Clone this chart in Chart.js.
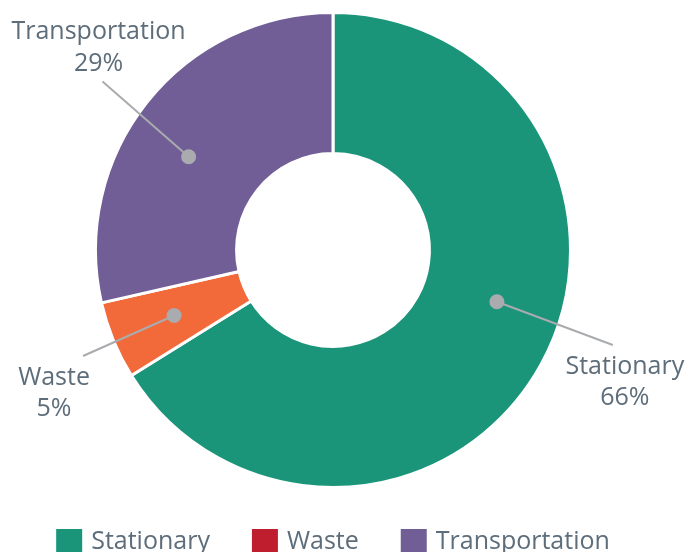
<!DOCTYPE html>
<html>
<head>
<meta charset="utf-8">
<script src="https://cdn.jsdelivr.net/npm/chart.js@4/dist/chart.umd.min.js"></script>
<style>
html,body{margin:0;padding:0;background:#fff;overflow:hidden;}
#wrap{width:688px;height:552px;position:relative;}
</style>
</head>
<body>
<div id="wrap"><canvas id="c" width="688" height="552"></canvas></div>
<script>
const categories = ['Stationary', 'Waste', 'Transportation'];
const shares = [66.2, 5.3, 28.6];
const sliceColors = ['#1b957a', '#f26a3a', '#715e96'];
const legendColors = ['#1b957a', '#be1e2d', '#715e96'];

const TEXT_COLOR = '#5d6d7a';
const FONT = '25px "Open Sans", "Noto Sans", sans-serif';

// callout placement (styling only): angle shifts in degrees, radial extension in px, text offsets
const calloutPlacement = [
  { shift: -11.5, endShift: 1.2, ext: 58, dx: 12, below: true },
  { shift: 0, endShift: -0.6, ext: 34, dx: -29, below: true },
  { shift: -5.7, endShift: 3.3, ext: 48, dx: -4, below: false }
];

const calloutPlugin = {
  id: 'callouts',
  afterDatasetsDraw(chart) {
    const ctx = chart.ctx;
    const meta = chart.getDatasetMeta(0);
    const data = chart.data.datasets[0].data;
    const total = data.reduce((a, b) => a + b, 0);
    ctx.save();
    meta.data.forEach((arc, i) => {
      const p = arc.getProps(['x', 'y', 'startAngle', 'endAngle', 'innerRadius', 'outerRadius'], true);
      const pl = calloutPlacement[i];
      const a = (p.startAngle + p.endAngle) / 2 + pl.shift * Math.PI / 180;
      const ae = a + pl.endShift * Math.PI / 180;
      const r0 = p.innerRadius + (p.outerRadius - p.innerRadius) * 0.535;
      const r1 = p.outerRadius + pl.ext;
      const dx0 = p.x + Math.cos(a) * r0, dy0 = p.y + Math.sin(a) * r0;
      const ex = p.x + Math.cos(ae) * r1, ey = p.y + Math.sin(ae) * r1;
      ctx.strokeStyle = '#a9abae';
      ctx.lineWidth = 2;
      ctx.beginPath();
      ctx.moveTo(dx0, dy0);
      ctx.lineTo(ex, ey);
      ctx.stroke();
      ctx.fillStyle = '#a9abae';
      ctx.beginPath();
      ctx.arc(dx0, dy0, 7.5, 0, Math.PI * 2);
      ctx.fill();
      const pct = Math.round(data[i] * 100 / total) + '%';
      ctx.fillStyle = TEXT_COLOR;
      ctx.font = FONT;
      ctx.textAlign = 'center';
      ctx.textBaseline = 'alphabetic';
      const tx = ex + pl.dx;
      let b1, b2;
      if (pl.below) { b1 = ey + 29; b2 = b1 + 31; }
      else { b2 = ey - 10; b1 = b2 - 32; }
      ctx.fillText(chart.data.labels[i], tx, b1);
      ctx.fillText(pct, tx, b2);
    });
    ctx.restore();
  }
};

const legendPlugin = {
  id: 'customLegend',
  afterDraw(chart) {
    const ctx = chart.ctx;
    const labels = chart.data.labels;
    ctx.save();
    ctx.font = FONT;
    const box = 26, gapText = 9, gapItem = 42;
    const widths = labels.map(l => ctx.measureText(l).width);
    let totalW = 0;
    widths.forEach((w, i) => { totalW += box + gapText + w + (i < labels.length - 1 ? gapItem : 0); });
    const cx = (chart.chartArea.left + chart.chartArea.right) / 2;
    let x = cx - totalW / 2;
    const top = 529;
    labels.forEach((l, i) => {
      ctx.fillStyle = legendColors[i];
      ctx.fillRect(x, top, box, box);
      ctx.fillStyle = TEXT_COLOR;
      ctx.textAlign = 'left';
      ctx.textBaseline = 'alphabetic';
      ctx.fillText(l, x + box + gapText, top + 20);
      x += box + gapText + widths[i] + gapItem;
    });
    ctx.restore();
  }
};

new Chart(document.getElementById('c'), {
  type: 'doughnut',
  data: {
    labels: categories,
    datasets: [{
      data: shares,
      backgroundColor: sliceColors,
      borderColor: '#ffffff',
      borderWidth: 3,
      hoverOffset: 0
    }]
  },
  options: {
    responsive: false,
    animation: false,
    cutout: '40.6%',
    layout: { padding: { left: 94, right: 116, top: 11, bottom: 63 } },
    plugins: {
      legend: { display: false },
      tooltip: { enabled: false }
    }
  },
  plugins: [calloutPlugin, legendPlugin]
});
</script>
</body>
</html>
